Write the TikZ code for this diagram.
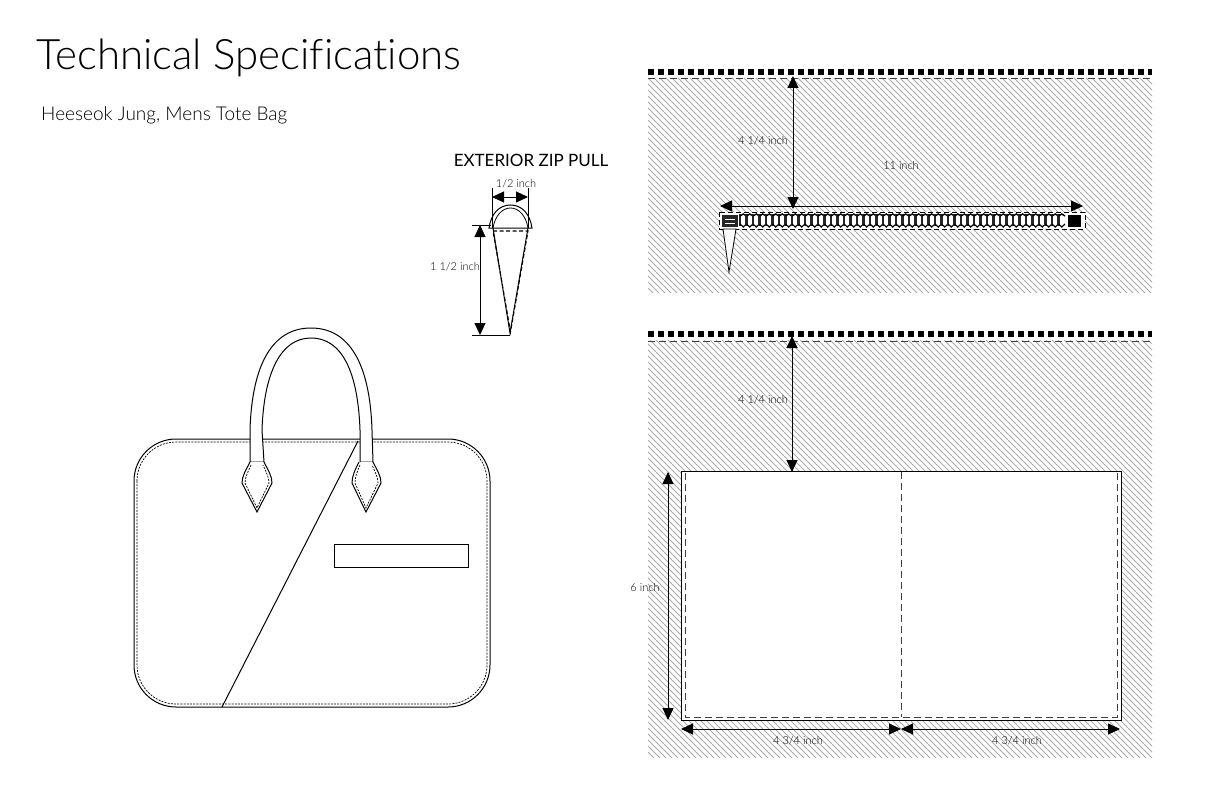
\documentclass[tikz,border=0pt]{standalone}
\usepackage{fontspec}
\setmainfont{Lato}[UprightFont=* Light,Ligatures=NoCommon]
\newfontfamily\regfont{Lato}[Ligatures=NoCommon]
\usetikzlibrary{arrows.meta}
\tikzset{
  ln/.style={draw=black,line width=1pt},
  stitch/.style={draw=black,line width=0.7pt,dash pattern=on 2pt off 1.2pt},
  dashl/.style={draw=black!75,line width=1pt,dash pattern=on 7pt off 4pt},
  sq/.style={draw=black,line width=5.5pt,dash pattern=on 5.5pt off 4.5pt},
  hatch/.style={draw=black!33,line width=0.8pt},
  dim/.style={draw=black,line width=1pt,{Triangle[length=12pt,width=11pt]}-{Triangle[length=12pt,width=11pt]}},
  lab/.style={font=\fontsize{11}{12}\selectfont,inner sep=0pt,text=black},
}
\begin{document}
\begin{tikzpicture}[x=1pt,y=-1pt]
\useasboundingbox[fill=white] (0,0) rectangle (1224,792);
% title
\node[anchor=base west,inner sep=0pt,font=\fontsize{42}{50}\selectfont] (title) at (36,70) {Technical Specifications};
\node[anchor=base west,inner sep=0pt,font=\fontsize{19}{22}\selectfont] (sub) at (41,120) {Heeseok Jung, Mens Tote Bag};
\node[anchor=base,inner sep=0pt,font=\regfont\fontsize{17}{20}\selectfont] (ext) at (531,166) {EXTERIOR ZIP PULL};
% hatched fields
\begin{scope}
\clip (648,78) rectangle (1152,292);
\foreach \s in {300,306,...,1152} \draw[hatch] (\s,78) -- ++(220,220);
\end{scope}
\begin{scope}
\clip (648,340) rectangle (1152,757);
\foreach \s in {200,206,...,1152} \draw[hatch] (\s,340) -- ++(420,420);
\end{scope}
% top zipper panel
\draw[sq] (648,72) -- (1152,72);
\draw[dashl] (648,79) -- (1152,79);
\draw[fill=white,draw=black,dash pattern=on 5pt off 3pt,line width=0.8pt] (719,212) rectangle (1085,229);
\foreach \s in {740,746.5,...,1064} {
  \draw[black!85,line width=2.4pt] (\s,214) -- ++(0,12);
  \draw[black,line width=1.4pt] (\s,216) -- ++(3.25,-2) -- ++(3.25,2);
  \draw[black,line width=1.2pt] (\s,224) -- ++(3.25,3) -- ++(3.25,-3);
}
\fill[black!85] (722,215) rectangle (738,227);
\draw[white,line width=1pt] (725,219) -- (735,219) (725,223) -- (735,223);
\fill[black] (1068,215) rectangle (1081,227);
\draw[ln,fill=white,line width=0.8pt] (723,229) -- (729,272) -- (736,229) -- cycle;
\coordinate (a1) at (793,76);
\coordinate (a2) at (793,209);
\draw[dim] (a1) -- (a2);
\coordinate (b1) at (720,206);
\coordinate (b2) at (1083,206);
\draw[dim] (b1) -- (b2);
\node[lab] (l1) at (763,141) {4 1/4 inch};
\node[lab] (l2) at (901,166) {11 inch};
% lower panel
\draw[sq] (648,334) -- (1152,334);
\draw[dashl] (648,341) -- (1152,341);
\draw[ln,fill=white] (681,471) rectangle (1121,720);
\draw[dashl] (685,473) -- (685,717) -- (1117,717) -- (1117,473);
\draw[dashl] (901,472) -- (901,717);
\coordinate (c1) at (792,336);
\coordinate (c2) at (792,472);
\draw[dim] (c1) -- (c2);
\coordinate (d1) at (668,472);
\coordinate (d2) at (668,720);
\draw[dim] (d1) -- (d2);
\coordinate (e1) at (681,729);
\coordinate (e2) at (901,729);
\coordinate (e3) at (1120,729);
\draw[dim] (e1) -- (e2);
\draw[dim] (e2) -- (e3);
\node[lab] (l3) at (763,400) {4 1/4 inch};
\node[lab] (l4) at (645,588) {6 inch};
\node[lab] (l5) at (798,741) {4 3/4 inch};
\node[lab] (l6) at (1017,741) {4 3/4 inch};
% zip pull
\draw[ln,fill=white] (489,228) .. controls (491,214) and (499,205) .. (510.5,205) .. controls (522,205) and (530,214) .. (532,228) -- cycle;
\draw[draw=black,line width=0.8pt] (493,228) .. controls (495,216) and (502,208) .. (510.5,208) .. controls (519,208) and (526,216) .. (528,228);
\draw[ln] (493,228) -- (510,333) -- (528,228);
\draw[dashl,dash pattern=on 4pt off 2.5pt,line width=1.1pt,draw=black] (493,231) -- (528,231) -- (510.5,332) -- cycle;
\draw[draw=black,line width=0.7pt] (492,188) -- (492,228) (528,188) -- (528,228);
\coordinate (f1) at (492,197);
\coordinate (f2) at (528,197);
\draw[dim] (f1) -- (f2);
\coordinate (g1) at (480,225);
\coordinate (g2) at (480,335);
\draw[dim] (g1) -- (g2);
\draw[draw=black,line width=0.7pt] (472,225) -- (491,225) (472,335.5) -- (510,335.5);
\node[lab] (l7) at (516,184) {1/2 inch};
\node[lab] (l8) at (455,267) {1 1/2 inch};
% bag
\draw[ln,rounded corners=42pt] (134,439) rectangle (490,707);
\draw[stitch,rounded corners=39pt] (137,442) rectangle (487,704);
\draw[ln] (358,441) -- (222,707);
\draw[ln] (334,544) rectangle (468,567);
% handle
\draw[ln,fill=white] (250,462) -- (250,430) .. controls (252,365) and (272,328) .. (311,328) .. controls (350,328) and (370,365) .. (372,430) -- (373,462)
  -- (360,462) -- (360,430) .. controls (358,372) and (342,338) .. (311,338) .. controls (281,338) and (264,372) .. (262,430) -- (264,462) -- cycle;
% tabs
\draw[ln,fill=white] (250,462) .. controls (246,470) and (242,476) .. (242,483) -- (257,512) -- (272,483) .. controls (272,476) and (268,470) .. (264,462);
\draw[stitch] (251,465) .. controls (248,472) and (245,477) .. (245,483) -- (257,508) -- (269,483) .. controls (269,477) and (266,472) .. (263,465);
\draw[ln,fill=white] (359,462) .. controls (355,470) and (352,476) .. (352,483) -- (366,512) -- (381,483) .. controls (381,476) and (377,470) .. (373,462);
\draw[stitch] (360,465) .. controls (357,472) and (355,477) .. (355,483) -- (366,508) -- (378,483) .. controls (378,477) and (375,472) .. (372,465);
\end{tikzpicture}
\end{document}
